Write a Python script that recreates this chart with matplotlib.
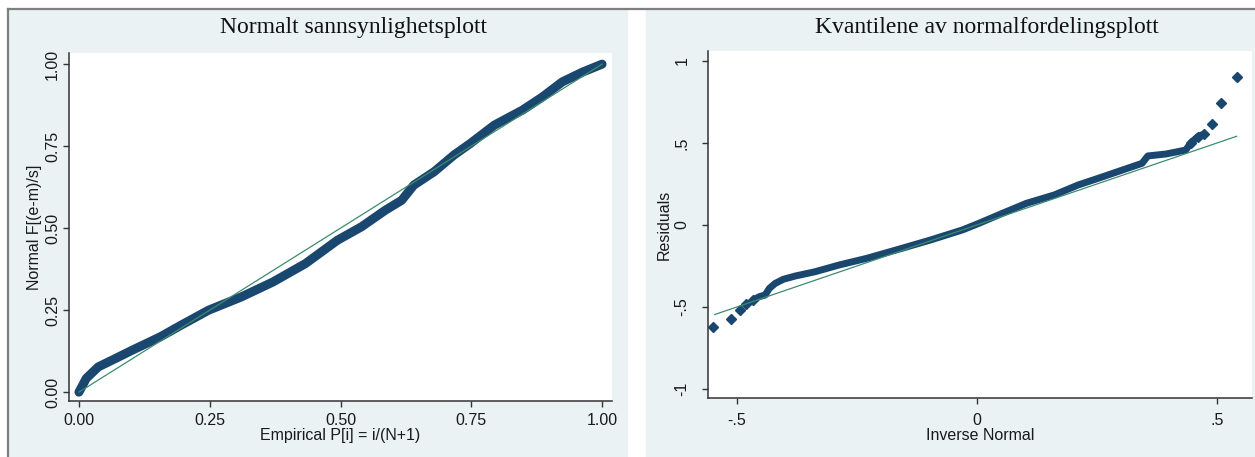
import matplotlib.pyplot as plt
import matplotlib.patches as mpatches
import matplotlib.lines as mlines

plt.rcParams['font.family'] = ['Liberation Sans', 'DejaVu Sans']

# Normal probability plot (pnorm): empirical P vs normal F
pnorm_p = [0.0, 0.014, 0.037, 0.064, 0.102, 0.156, 0.195, 0.248, 0.31, 0.371,
           0.433, 0.494, 0.54, 0.586, 0.617, 0.64, 0.679, 0.717, 0.748, 0.794,
           0.848, 0.886, 0.924, 0.963, 1.0]
pnorm_f = [0.0, 0.042, 0.077, 0.098, 0.128, 0.169, 0.204, 0.25, 0.29, 0.336,
           0.392, 0.463, 0.504, 0.555, 0.585, 0.631, 0.672, 0.723, 0.758, 0.814,
           0.86, 0.9, 0.946, 0.976, 1.0]

# Quantile plot (qnorm): inverse normal vs residuals
q_inv = [-0.549, -0.513, -0.493, -0.48, -0.466, -0.453, -0.441, -0.432, -0.42,
         -0.403, -0.378, -0.337, -0.287, -0.229, -0.163, -0.096, -0.03, 0.004,
         0.053, 0.103, 0.161, 0.211, 0.253, 0.303, 0.344, 0.356, 0.394, 0.435,
         0.446, 0.46, 0.473, 0.489, 0.508, 0.541]
q_res = [-0.624, -0.575, -0.518, -0.482, -0.457, -0.437, -0.427, -0.386, -0.356,
         -0.331, -0.311, -0.285, -0.244, -0.203, -0.148, -0.091, -0.03, 0.01,
         0.071, 0.132, 0.183, 0.244, 0.285, 0.335, 0.376, 0.421, 0.433, 0.457,
         0.502, 0.538, 0.555, 0.616, 0.742, 0.9]
q_line = [-0.546, 0.541]

navy = '#1a476f'
green = '#3d8b6d'
bg = '#eaf2f3'
W, H = 1255, 457

fig = plt.figure(figsize=(W / 100, H / 100), dpi=100)
fig.patch.set_facecolor('white')

# panel backgrounds and window border
fig.add_artist(mpatches.Rectangle((9 / W, 0), (627 - 9) / W, (H - 10) / H,
                                  transform=fig.transFigure, color=bg, zorder=0))
fig.add_artist(mpatches.Rectangle((646 / W, 0), (W - 646) / W, (H - 10) / H,
                                  transform=fig.transFigure, color=bg, zorder=0))
fig.add_artist(mlines.Line2D([8 / W, 1], [1 - 9 / H, 1 - 9 / H],
                             transform=fig.transFigure, color='#7f7f7f', lw=1.6))
fig.add_artist(mlines.Line2D([8 / W, 8 / W], [0, 1 - 9 / H],
                             transform=fig.transFigure, color='#7f7f7f', lw=1.6))


def make_axes(x0, x1, y0, y1):
    ax = fig.add_axes([x0 / W, 1 - y1 / H, (x1 - x0) / W, (y1 - y0) / H])
    ax.set_facecolor('white')
    for s in ['top', 'right']:
        ax.spines[s].set_visible(False)
    for s in ['left', 'bottom']:
        ax.spines[s].set_color('#333333')
        ax.spines[s].set_linewidth(1.1)
    ax.tick_params(direction='out', length=4.5, width=1, color='#333333',
                   labelsize=11.5, labelcolor='#1a1a1a')
    return ax


# left panel
ax1 = make_axes(69, 612, 53, 401)
ax1.plot([0, 1], [0, 1], color=green, lw=0.9, zorder=3)
ax1.plot(pnorm_p, pnorm_f, '-', color=navy, lw=6.5, solid_capstyle='round',
         solid_joinstyle='round', zorder=2)
ax1.set_xlim(-0.019, 1.019)
ax1.set_ylim(-0.027, 1.034)
ticks = [0, 0.25, 0.5, 0.75, 1.0]
ax1.set_xticks(ticks)
ax1.set_xticklabels(['0.00', '0.25', '0.50', '0.75', '1.00'])
ax1.set_yticks(ticks)
ax1.set_yticklabels(['0.00', '0.25', '0.50', '0.75', '1.00'], rotation=90, va='center')
ax1.tick_params(axis='y', pad=2)
ax1.tick_params(axis='x', pad=4)
ax1.set_xlabel('Empirical P[i] = i/(N+1)', fontsize=11.5, color='#1a1a1a', labelpad=0)
ax1.set_ylabel('Normal F[(e-m)/s]', fontsize=11.5, color='#1a1a1a', labelpad=2)

# right panel
ax2 = make_axes(708, 1252, 51, 398)
ax2.plot(q_line, q_line, color=green, lw=0.9, zorder=3)
ax2.plot(q_inv[4:31], q_res[4:31], '-', color=navy, lw=5, solid_capstyle='round',
         solid_joinstyle='round', zorder=2)
ax2.plot(q_inv[:5] + q_inv[28:], q_res[:5] + q_res[28:], 'D', color=navy, ms=5, zorder=2)
ax2.set_xlim(-0.56, 0.573)
ax2.set_ylim(-1.055, 1.061)
ax2.set_xticks([-0.5, 0, 0.5])
ax2.set_xticklabels(['-.5', '0', '.5'])
ax2.set_yticks([-1, -0.5, 0, 0.5, 1])
ax2.set_yticklabels(['-1', '-.5', '0', '.5', '1'], rotation=90, va='center')
ax2.tick_params(axis='y', pad=9)
ax2.tick_params(axis='x', pad=6)
ax2.set_xlabel('Inverse Normal', fontsize=11.5, color='#1a1a1a', labelpad=0)
ax2.set_ylabel('Residuals', fontsize=11.5, color='#1a1a1a', labelpad=2)

# titles
fig.text(354 / W, 1 - 27 / H, 'Normalt sannsynlighetsplott', ha='center', va='center',
         family='Liberation Serif', fontsize=17, color='#111111')
fig.text(987 / W, 1 - 27 / H, 'Kvantilene av normalfordelingsplott', ha='center', va='center',
         family='Liberation Serif', fontsize=17, color='#111111')

fig.savefig('out.png', dpi=100)
